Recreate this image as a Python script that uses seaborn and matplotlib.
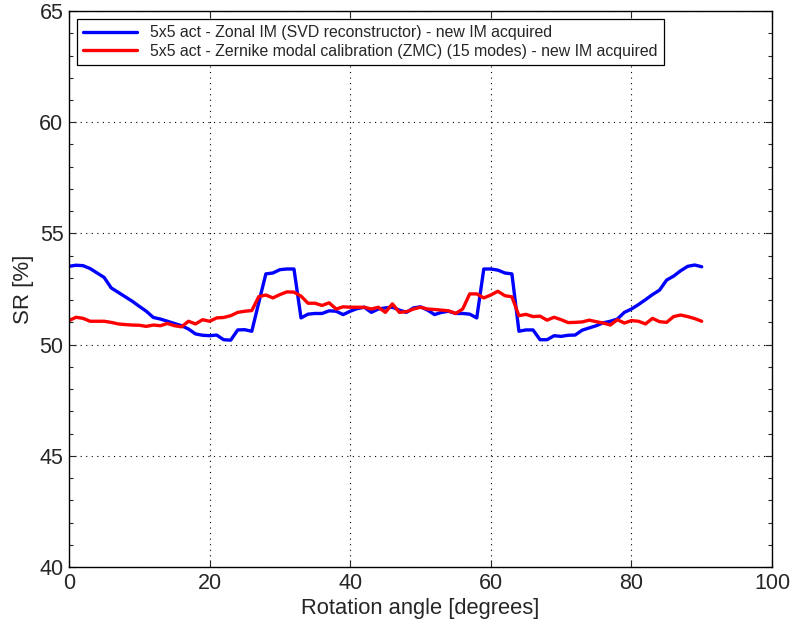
import pandas as pd
import matplotlib.pyplot as plt
import seaborn as sns
import numpy as np
from matplotlib.ticker import MultipleLocator

# rotation angle, 1 degree steps
angle = list(range(0, 91))

# SR [%] for the zonal IM
sr_zonal = [53.52, 53.57, 53.55, 53.42, 53.22, 53.02, 52.55, 52.35, 52.15, 51.95,
            51.72, 51.50, 51.22, 51.15, 51.05, 50.95, 50.85, 50.70, 50.48, 50.42,
            50.40, 50.43, 50.22, 50.20, 50.66, 50.67, 50.60, 51.90, 53.18, 53.22,
            53.37, 53.40, 53.40, 51.20, 51.37, 51.40, 51.40, 51.52, 51.50, 51.35,
            51.50, 51.62, 51.68, 51.45, 51.60, 51.65, 51.68, 51.55, 51.45, 51.65,
            51.70, 51.55, 51.35, 51.45, 51.50, 51.40, 51.40, 51.37, 51.20, 53.40,
            53.40, 53.35, 53.22, 53.18, 50.60, 50.66, 50.66, 50.22, 50.22, 50.40,
            50.37, 50.42, 50.43, 50.65, 50.75, 50.85, 50.98, 51.05, 51.15, 51.45,
            51.60, 51.80, 52.02, 52.25, 52.45, 52.90, 53.08, 53.32, 53.52, 53.58,
            53.50]

# SR [%] for the Zernike modal calibration
sr_zmc = [51.08, 51.23, 51.18, 51.05, 51.05, 51.05, 51.00, 50.93, 50.90, 50.88,
          50.87, 50.82, 50.88, 50.85, 50.95, 50.85, 50.80, 51.05, 50.93, 51.12,
          51.05, 51.20, 51.22, 51.30, 51.45, 51.50, 51.53, 52.16, 52.23, 52.10,
          52.25, 52.37, 52.36, 52.18, 51.86, 51.86, 51.76, 51.88, 51.60, 51.70,
          51.68, 51.68, 51.68, 51.60, 51.68, 51.45, 51.83, 51.45, 51.48, 51.60,
          51.68, 51.60, 51.58, 51.55, 51.52, 51.40, 51.60, 52.28, 52.28, 52.10,
          52.23, 52.40, 52.20, 52.15, 51.30, 51.36, 51.26, 51.28, 51.10, 51.23,
          51.12, 50.99, 51.00, 51.02, 51.10, 51.03, 50.97, 50.88, 51.12, 50.97,
          51.08, 51.05, 50.93, 51.18, 51.03, 51.00, 51.26, 51.33, 51.26, 51.17,
          51.05]

labels = ['5x5 act - Zonal IM (SVD reconstructor) - new IM acquired',
          '5x5 act - Zernike modal calibration (ZMC) (15 modes) - new IM acquired']

df = pd.DataFrame({
    'angle': angle * 2,
    'SR': sr_zonal + sr_zmc,
    'method': [labels[0]] * len(angle) + [labels[1]] * len(angle),
})

sns.set_style('ticks')
plt.rcParams['font.family'] = ['Liberation Sans', 'DejaVu Sans']

fig = plt.figure(figsize=(7.95, 6.23), dpi=100)
ax = fig.add_axes([0.0868, 0.0899, 0.8843, 0.8924])

sns.lineplot(data=df, x='angle', y='SR', hue='method',
             palette=['#0000ff', '#ff0000'], linewidth=2.4, ax=ax)

ax.set_xlim(0, 100)
ax.set_ylim(40, 65)
ax.set_xticks([0, 20, 40, 60, 80, 100])
ax.set_yticks([40, 45, 50, 55, 60, 65])
ax.yaxis.set_minor_locator(MultipleLocator(1))
ax.grid(True, which='major', linestyle=(0, (1, 4)), color='black', linewidth=0.8)
ax.tick_params(which='both', direction='in', top=True, right=True, labelsize=15.5, width=0.8)
ax.tick_params(which='major', length=5, pad=4)
ax.tick_params(which='minor', length=3)
for s in ax.spines.values():
    s.set_linewidth(1.0)
    s.set_color('black')

ax.set_xlabel('Rotation angle [degrees]', fontsize=15.8, labelpad=3)
ax.set_ylabel('SR [%]', fontsize=16, labelpad=4)

leg = ax.legend(loc='upper left', fontsize=11.4, frameon=True, fancybox=False,
                edgecolor='black', framealpha=1, borderaxespad=0.5,
                handlelength=3.4, borderpad=0.4, labelspacing=0.22)
leg.get_frame().set_linewidth(0.9)

fig.savefig('out.png', dpi=100)
